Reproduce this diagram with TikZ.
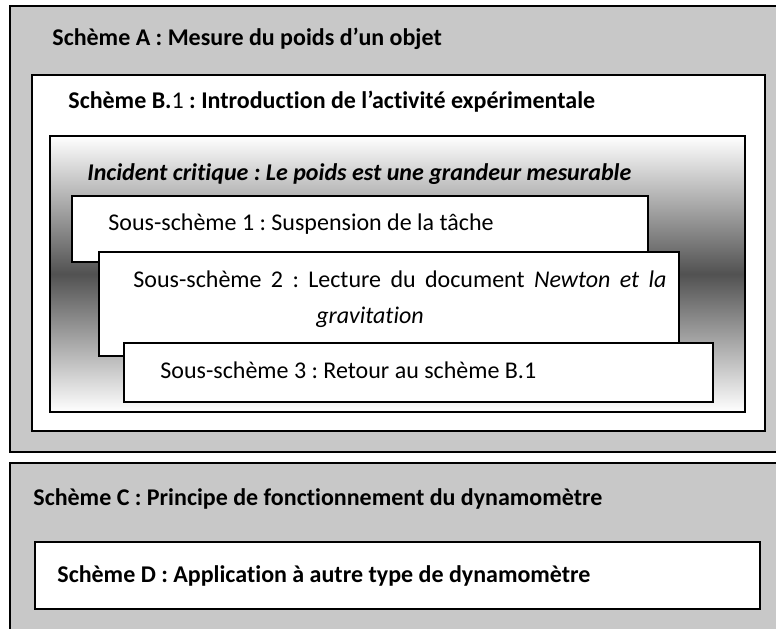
\documentclass[tikz,border=0pt]{standalone}
\usepackage{fontspec}
\setmainfont{Carlito}[Ligatures={TeX,NoCommon}]
\usepackage{tikz}
\definecolor{panelgray}{RGB}{200,200,200}
\tikzset{panel/.style={draw, line width=1pt, fill=panelgray},
	whitebox/.style={draw, line width=0.9pt, fill=white},
	txt/.style={anchor=base west, inner sep=0pt, font=\fontsize{12}{14}\selectfont},
	boldtxt/.style={txt, font=\fontsize{12}{14}\selectfont\bfseries}}
\frenchspacing

\begin{document}
\begin{tikzpicture}
		[x=0.5pt, y=-0.5pt]
		\clip (0,0) rectangle (776,628);
		%		outer schemes
		\draw[panel] (10,6) rectangle (800,452);
		\draw[whitebox] (32,75) rectangle (765,431);
		\shade[top color=white, bottom color=white, middle color=black!68] (50,136) rectangle (745,412);
		\draw[line width=0.9pt] (50,136) rectangle (745,412);
		\draw[whitebox] (72,196) rectangle (648,262);
		\draw[whitebox] (99,252) rectangle (679,356);
		\draw[whitebox] (124,343) rectangle (713,402);
		\draw[panel] (10,463) rectangle (800,640);
		\draw[whitebox] (35,542) rectangle (760,609);
		\node[boldtxt] (schA) at (52,45) {Schème A : Mesure du poids d’un objet};
		\node[boldtxt] (schB) at (68,108) {Schème B.{\mdseries 1} : Introduction de l’activité expérimentale};
		\node[boldtxt, font=\fontsize{12}{14}\selectfont\bfseries\itshape] (incid) at (87,180) {Incident critique : Le poids est une grandeur mesurable};
		\node[txt] (ss1) at (108,230) {Sous-schème 1 : Suspension de la tâche};
		\node[txt] (ss2) at (133,287) {\makebox[266.5pt][s]{Sous-schème 2 : Lecture du document \textit{Newton et la}}};
		\node[txt, anchor=base] (ss2b) at (370,323) {\textit{gravitation}};
		\node[txt] (ss3) at (160,378) {Sous-schème 3 : Retour au schème B.1};
		\node[boldtxt] (schC) at (33,505) {Schème C : Principe de fonctionnement du dynamomètre};
		\node[boldtxt] (schD) at (57,582) {Schème D : Application à autre type de dynamomètre};
		\end{tikzpicture}
\end{document}
